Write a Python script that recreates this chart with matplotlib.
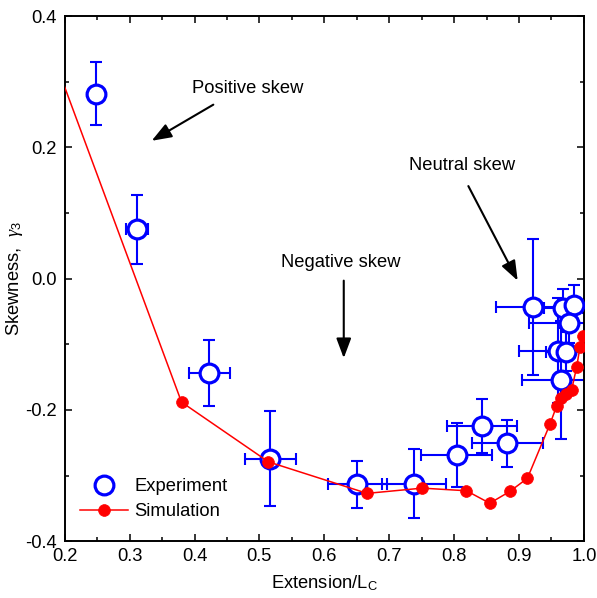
import matplotlib
matplotlib.use("Agg")
import matplotlib.pyplot as plt
from matplotlib.ticker import MultipleLocator, FormatStrFormatter

plt.rcParams['font.family'] = ['Liberation Sans', 'DejaVu Sans']
plt.rcParams['mathtext.fontset'] = 'custom'
plt.rcParams['mathtext.rm'] = 'Liberation Sans'
plt.rcParams['mathtext.it'] = 'Liberation Serif:italic'
plt.rcParams['axes.unicode_minus'] = False

FS = 13.2

# experiment : points mesures avec barres d'erreur
exp_x = [0.248, 0.311, 0.423, 0.517, 0.651, 0.738, 0.804, 0.843, 0.882,
         0.921, 0.968, 0.985, 0.977, 0.960, 0.972, 0.964]
exp_y = [0.282, 0.075, -0.144, -0.274, -0.313, -0.312, -0.269, -0.225, -0.251,
         -0.043, -0.045, -0.040, -0.068, -0.110, -0.111, -0.154]
exp_xerr = [0.0, 0.017, 0.031, 0.039, 0.045, 0.049, 0.055, 0.054, 0.055,
            0.057, 0.03, 0.02, 0.062, 0.06, 0.03, 0.06]
exp_yerr = [0.048, 0.053, 0.05, 0.072, 0.036, 0.053, 0.049, 0.041, 0.036,
            0.103, 0.03, 0.03, 0.03, 0.08, 0.03, 0.09]

# simulation
sim_x = [0.18, 0.380, 0.514, 0.666, 0.751, 0.819, 0.855, 0.886, 0.913,
         0.948, 0.958, 0.964, 0.972, 0.981, 0.989, 0.994, 0.999]
sim_y = [0.345, -0.188, -0.279, -0.327, -0.319, -0.323, -0.342, -0.324, -0.304,
         -0.221, -0.194, -0.182, -0.175, -0.170, -0.134, -0.104, -0.088]

fig = plt.figure(figsize=(5.97, 5.98), dpi=100)
ax = fig.add_axes([0.1084, 0.0948, 0.8696, 0.8784])

blue = '#0000FF'
red = '#FF0000'

ax.errorbar(exp_x, exp_y, xerr=exp_xerr, yerr=exp_yerr, fmt='none',
            ecolor=blue, elinewidth=1.5, capsize=4.5, capthick=1.5, zorder=2)
ax.plot(exp_x, exp_y, 'o', ms=13.5, mfc='white', mec=blue, mew=2.3,
        label='Experiment', zorder=3)
ax.plot(sim_x, sim_y, '-o', color=red, lw=1.1, ms=8.5, mec=red, mew=0.5,
        label='Simulation', zorder=4)

ax.set_xlim(0.2, 1.0)
ax.set_ylim(-0.4, 0.4)
ax.xaxis.set_major_locator(MultipleLocator(0.1))
ax.xaxis.set_minor_locator(MultipleLocator(0.05))
ax.yaxis.set_major_locator(MultipleLocator(0.2))
ax.yaxis.set_minor_locator(MultipleLocator(0.1))
ax.xaxis.set_major_formatter(FormatStrFormatter('%.1f'))
ax.yaxis.set_major_formatter(FormatStrFormatter('%.1f'))

ax.tick_params(which='both', direction='in', top=True, right=True, width=1.1,
               labelsize=FS)
ax.tick_params(which='major', length=5)
ax.tick_params(which='minor', length=3)
ax.tick_params(axis='y', pad=5.5)
ax.tick_params(axis='x', pad=5)
for s in ax.spines.values():
    s.set_linewidth(1.4)

ax.set_xlabel('Extension/L$_\\mathregular{C}$', fontsize=FS, labelpad=6)
ax.set_ylabel('Skewness,  $\\it{\\gamma}_\\mathregular{3}$', fontsize=FS, labelpad=0)

# fleches et textes
arrow = dict(arrowstyle='-|>,head_length=1.2,head_width=0.45', color='black',
             lw=1.5, mutation_scale=10, shrinkA=0, shrinkB=0)
ax.text(0.482, 0.289, 'Positive skew', fontsize=FS, ha='center', va='center')
ax.annotate('', xy=(0.334, 0.210), xytext=(0.429, 0.265), arrowprops=arrow)
ax.text(0.626, 0.024, 'Negative skew', fontsize=FS, ha='center', va='center')
ax.annotate('', xy=(0.630, -0.121), xytext=(0.630, -0.003), arrowprops=arrow)
ax.text(0.812, 0.172, 'Neutral skew', fontsize=FS, ha='center', va='center')
ax.annotate('', xy=(0.898, -0.003), xytext=(0.822, 0.141), arrowprops=arrow)

ax.legend(loc='lower left', bbox_to_anchor=(0.03, 0.04), frameon=False,
          numpoints=1, handlelength=2.6, borderpad=0, borderaxespad=0,
          handletextpad=0.35, labelspacing=0.45, fontsize=FS)

fig.savefig('out.png', dpi=100)
